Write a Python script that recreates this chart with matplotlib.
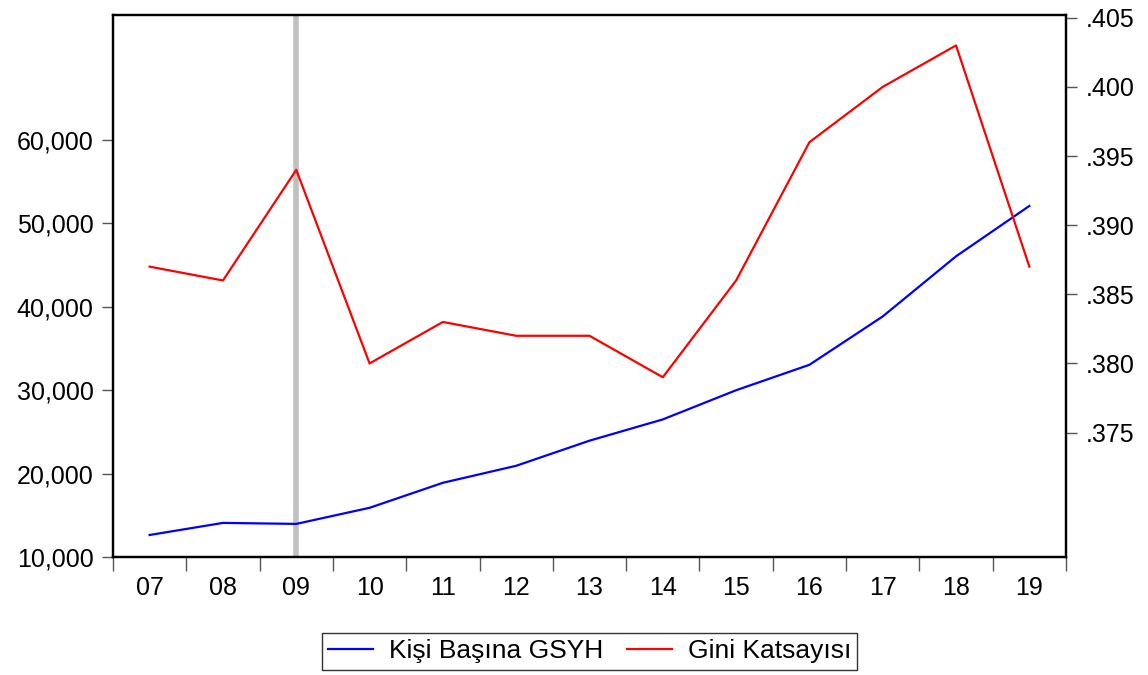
import matplotlib
matplotlib.use("Agg")
import matplotlib.pyplot as plt
from matplotlib.ticker import FuncFormatter, FixedLocator
import numpy as np

plt.rcParams['font.family'] = ['Liberation Sans', 'DejaVu Sans']

years = ['07', '08', '09', '10', '11', '12', '13', '14', '15', '16', '17', '18', '19']
gsyh = [12640, 14090, 13970, 15900, 18900, 20940, 23950, 26500, 30000, 33050, 38850, 46060, 52100]
gini = [0.387, 0.386, 0.394, 0.380, 0.383, 0.382, 0.382, 0.379, 0.386, 0.396, 0.400, 0.403, 0.387]
left_ticks = [10000, 20000, 30000, 40000, 50000, 60000]
right_ticks = [0.375, 0.380, 0.385, 0.390, 0.395, 0.400, 0.405]
shade_year = '09'

x = np.arange(len(years))

fig = plt.figure(figsize=(11.48, 6.75), dpi=100)
ax = fig.add_axes([113 / 1148, 1 - 557 / 675, (1066 - 113) / 1148, (557 - 15) / 675])
ax2 = ax.twinx()

ax.axvline(years.index(shade_year), color='#c0c0c0', linewidth=4, zorder=0)
l1, = ax.plot(x, gsyh, color='#0000ff', linewidth=1.6, label='Kişi Başına GSYH')
l2, = ax2.plot(x, gini, color='#ff0000', linewidth=1.6, label='Gini Katsayısı')

ax.set_xlim(-0.5, len(years) - 0.5)
ax.set_ylim(10000, 75000)
ax2.set_ylim(0.366, 0.4052)

# year labels sit between the boundary ticks
ax.xaxis.set_major_locator(FixedLocator(np.arange(-0.5, len(years), 1.0)))
ax.xaxis.set_minor_locator(FixedLocator(x))
ax.set_xticklabels([], minor=False)
ax.set_xticklabels(years, minor=True)
ax.tick_params(axis='x', which='major', length=10, width=1, color='#555555', direction='out')
ax.tick_params(axis='x', which='minor', length=0, pad=14, labelsize=18)

ax.set_yticks(left_ticks)
ax.yaxis.set_major_formatter(FuncFormatter(lambda v, p: f'{int(v):,}'))
ax.tick_params(axis='y', length=8, width=1, color='#555555', labelsize=18, pad=6)

ax2.set_yticks(right_ticks)
ax2.yaxis.set_major_formatter(FuncFormatter(lambda v, p: f'{v:.3f}'.lstrip('0')))
ax2.tick_params(axis='y', length=8, width=1, color='#555555', labelsize=18, pad=6)

for a in (ax, ax2):
    for s in a.spines.values():
        s.set_linewidth(1.6)
        s.set_color('black')

leg = ax.legend(handles=[l1, l2], loc='upper center', bbox_to_anchor=(0.5, -0.14),
                ncol=2, frameon=True, fancybox=False, edgecolor='black', fontsize=19,
                handlelength=1.7, handletextpad=0.6, columnspacing=0.9, borderpad=0.25,
                borderaxespad=0)
leg.get_frame().set_linewidth(1.0)

fig.savefig('out.png', dpi=100)
